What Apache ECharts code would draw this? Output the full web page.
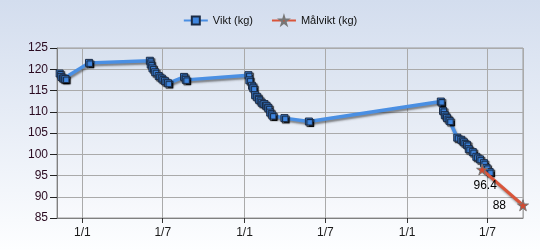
<!DOCTYPE html>
<html><head><meta charset="utf-8">
<script src="https://cdn.jsdelivr.net/npm/echarts@6/dist/echarts.min.js"></script>
<style>html,body{margin:0;padding:0;}#c{width:540px;height:250px;}</style>
</head><body><div id="c"></div>
<script>
const viktDates = ['2010-11-11','2010-11-15','2010-11-20','2010-11-24','2011-01-16',
 '2011-06-02','2011-06-04','2011-06-08','2011-06-14','2011-06-22','2011-06-29','2011-07-06','2011-07-13','2011-08-18','2011-08-22',
 '2012-01-10','2012-01-12','2012-01-18','2012-01-21','2012-01-25','2012-01-30','2012-02-03','2012-02-09','2012-02-15','2012-02-20','2012-02-24','2012-02-28','2012-03-04','2012-03-31','2012-05-25',
 '2013-03-18','2013-03-23','2013-03-27','2013-04-01','2013-04-07','2013-04-24','2013-05-03','2013-05-09','2013-05-16','2013-05-20','2013-05-29','2013-06-06','2013-06-14','2013-06-23','2013-06-29','2013-07-06'];
const viktValues = [119, 118.2, 117.8, 117.7, 121.5,
 122, 121.1, 120.2, 119.3, 118.4, 117.8, 117.2, 116.7, 118.2, 117.5,
 118.6, 117.4, 116.1, 115.5, 113.9, 113.4, 112.8, 112.1, 111.8, 111.3, 110.8, 109.8, 109.1, 108.5, 107.7,
 112.4, 110.2, 109.2, 108.5, 107.8, 103.9, 103.4, 102.8, 102.2, 101.2, 100.5, 99.4, 98.8, 97.9, 96.8, 95.8];
const malDates = ['2013-06-19','2013-09-19'];
const malValues = [96.4, 88];
const xMin = '2010-11-05', xMax = '2013-09-19';
const yMin = 85, yMax = 125, yStep = 5;

const star = 'path://M50,0 L61,35 L98,35 L68,57 L79,91 L50,70 L21,91 L32,57 L2,35 L39,35 Z';
const chart = echarts.init(document.getElementById('c'), null, {renderer:'canvas'});
const font = 'Liberation Sans, Arial, sans-serif';
chart.setOption({
  animation:false,
  backgroundColor:{type:'linear',x:0,y:0,x2:0,y2:1,colorStops:[{offset:0,color:'#d3ddee'},{offset:1,color:'#fdfeff'}]},
  textStyle:{fontFamily:font},
  legend:{top:10,left:'center',itemWidth:24,itemHeight:10,itemGap:18,textStyle:{fontSize:11,color:'#111',fontFamily:font},
    data:['Vikt (kg)','Målvikt (kg)']},
  grid:{left:57,right:17,top:48,bottom:32,show:true,borderColor:'#9a9a9a',borderWidth:1,
    backgroundColor:{type:'linear',x:0,y:0,x2:0,y2:1,colorStops:[{offset:0,color:'#d8e1ef'},{offset:1,color:'#f9fafd'}]}},
  xAxis:{type:'time',min:xMin,max:xMax,splitNumber:5,
    axisLine:{lineStyle:{color:'#808080'}},
    axisTick:{show:true,length:5,lineStyle:{color:'#333'}},
    minorTick:{show:false},
    splitLine:{show:true,lineStyle:{color:'#aaaaaa'}},
    axisLabel:{color:'#1a1a1a',fontSize:12,margin:9,showMinLabel:false,showMaxLabel:false,
      formatter:function(v){const d=new Date(v);return d.getDate()+'/'+(d.getMonth()+1);}}},
  yAxis:{type:'value',min:yMin,max:yMax,interval:yStep,
    axisLine:{show:true,lineStyle:{color:'#808080'}},
    axisTick:{show:true,length:7,lineStyle:{color:'#222'}},
    splitLine:{show:true,lineStyle:{color:'#aaaaaa'}},
    axisLabel:{color:'#2a0a20',fontSize:12,margin:9}},
  series:[
    {name:'Vikt (kg)',type:'line',data:viktDates.map((d,i)=>[d,viktValues[i]]),
     symbol:'rect',symbolSize:7,z:3,
     lineStyle:{color:'#4a8fe3',width:3.5,shadowColor:'rgba(40,40,40,0.55)',shadowBlur:2,shadowOffsetX:1,shadowOffsetY:2},
     itemStyle:{color:'#3f86e0',borderColor:'#1b2b45',borderWidth:1,shadowColor:'rgba(0,0,0,0.85)',shadowBlur:1,shadowOffsetX:1.5,shadowOffsetY:1.5}},
    {name:'Målvikt (kg)',type:'line',
     data:malDates.map((d,i)=>({value:[d,malValues[i]],
       label:{position: i===0 ? 'bottom' : 'left', offset: i===0 ? [3,-1] : [-6,0]}})),
     symbol:star,symbolSize:11,z:4,
     lineStyle:{color:'#d9553a',width:3,shadowColor:'rgba(40,40,40,0.45)',shadowBlur:2,shadowOffsetX:1,shadowOffsetY:2},
     itemStyle:{color:'#d24a30',borderColor:'#777',borderWidth:1},
     label:{show:true,color:'#000',fontSize:12,fontFamily:font,
       formatter:function(p){return String(p.value[1]);}}}
  ]
});
</script></body></html>
